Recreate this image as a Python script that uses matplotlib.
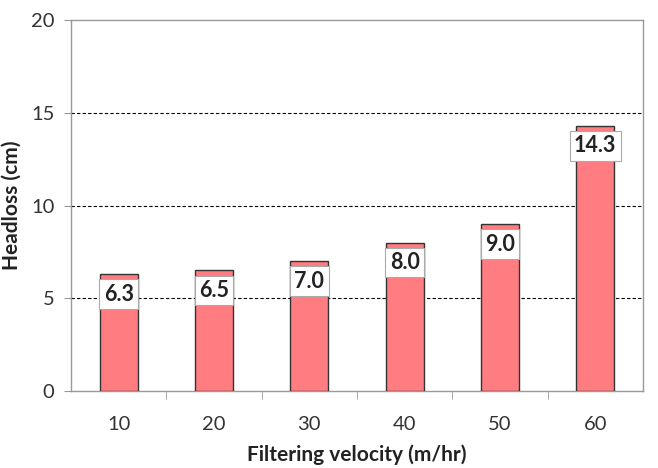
import matplotlib
matplotlib.use("Agg")
import matplotlib.pyplot as plt

plt.rcParams['font.family'] = ['Lato', 'DejaVu Sans']

velocities = ["10", "20", "30", "40", "50", "60"]
headloss = [6.3, 6.5, 7.0, 8.0, 9.0, 14.3]
labels = ["6.3", "6.5", "7.0", "8.0", "9.0", "14.3"]

fig = plt.figure(figsize=(6.58, 4.68), dpi=100)
ax = fig.add_axes([0.108, 0.1645, 0.869, 0.7925])

x = range(len(velocities))
ax.bar(x, headloss, width=0.4, color="#FF7C80", edgecolor="#333333", linewidth=1.0, zorder=3)

for xi, v, lab in zip(x, headloss, labels):
    ax.annotate(lab, (xi, v), xytext=(0, -20), textcoords="offset pixels",
                ha="center", va="center", fontsize=15.5, fontweight="bold", color="#222222",
                bbox=dict(boxstyle="square,pad=0.2", fc="white", ec="#aaaaaa", lw=0.8),
                zorder=5)

ax.set_xlim(-0.5, len(velocities) - 0.5)
ax.set_ylim(0, 20)
ax.set_yticks([0, 5, 10, 15, 20])
ax.set_xticks(list(x))
ax.set_xticklabels(velocities)
ax.set_xticks([i + 0.5 for i in range(len(velocities) - 1)], minor=True)

for yv in [5, 10, 15]:
    ax.axhline(yv, color="black", linestyle=(0, (3, 2)), linewidth=0.8, zorder=1)

for s in ax.spines.values():
    s.set_color("#999999")
    s.set_linewidth(1.0)

ax.tick_params(axis="y", direction="out", length=5, color="#999999", labelsize=14.5, labelcolor="#333333", pad=7)
ax.tick_params(axis="x", which="major", length=0, labelsize=14.5, labelcolor="#333333", pad=18)
ax.tick_params(axis="x", which="minor", direction="out", length=6, color="#999999")

ax.set_xlabel("Filtering velocity (m/hr)", fontsize=15, fontweight="bold", color="#222222", labelpad=8)
ax.set_ylabel("Headloss (cm)", fontsize=15, fontweight="bold", color="#222222", labelpad=7)

fig.savefig("out.png", dpi=100)
